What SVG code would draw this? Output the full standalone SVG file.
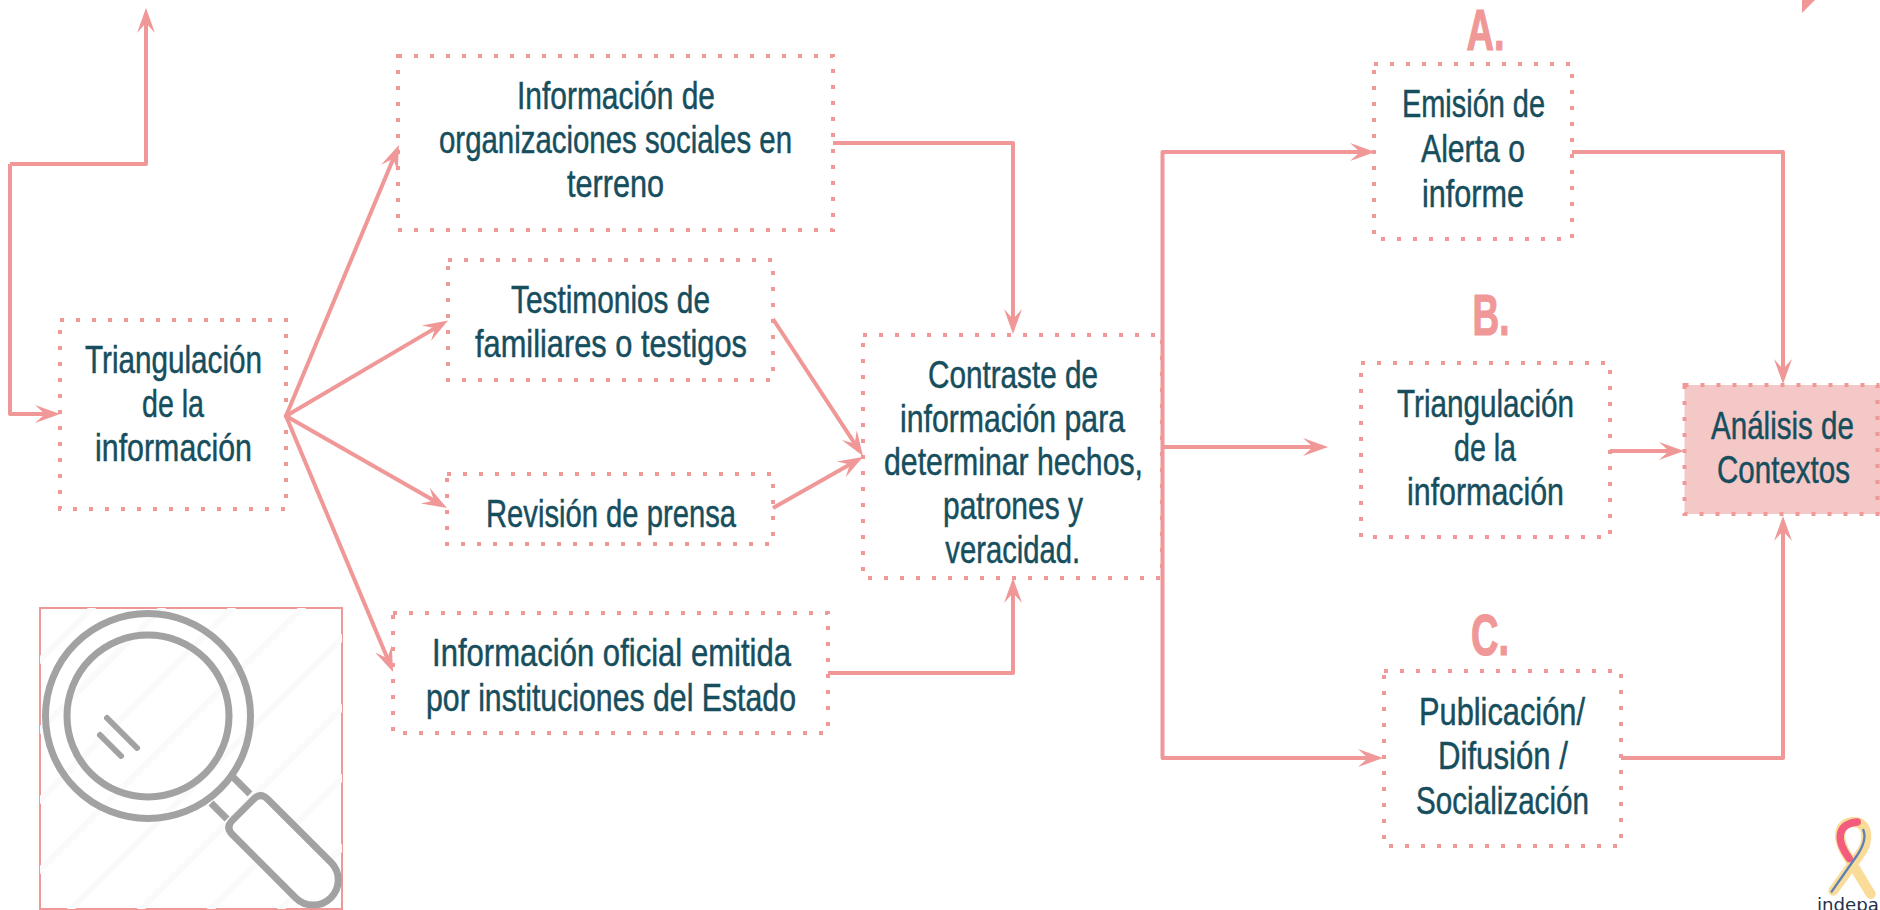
<svg xmlns="http://www.w3.org/2000/svg" width="1880" height="910" viewBox="0 0 1880 910">
<style>
.box{fill:none;stroke:#f09797;stroke-width:4;stroke-dasharray:4 12}
.c{fill:none;stroke:#f09797;stroke-width:4;stroke-linejoin:round}
.a{marker-end:url(#ah)}
.t{font-family:"Liberation Sans Narrow","Liberation Sans",sans-serif;font-size:39px;fill:#164e5e;stroke:#164e5e;stroke-width:.5;text-anchor:middle}
.l{font-family:"Liberation Sans",sans-serif;font-weight:bold;font-size:58px;fill:#f09797;stroke:#f09797;stroke-width:1.2}
.g{fill:none;stroke:#a2a2a2;stroke-width:7}
</style>
<defs>
<marker id="ah" markerUnits="userSpaceOnUse" markerWidth="30" markerHeight="22" viewBox="-26 -11 30 22" refX="-8" refY="0" orient="auto"><path d="M0 0L-25-9L-15 0L-25 9Z" fill="#f09797"/></marker>
<clipPath id="fr"><rect x="40" y="608" width="302" height="301"/></clipPath>
</defs>
<rect width="1880" height="910" fill="#fff"/>
<g id="lupa">
<rect x="40" y="608" width="302" height="301" fill="#fff" stroke="#f09797" stroke-width="2"/>
<path clip-path="url(#fr)" d="M30 670L100 600M30 740L170 600M30 810L240 600M30 880L310 600M30 950L380 600M90 960L420 630M160 960L420 700M230 960L420 770M300 960L420 840" fill="none" stroke="#fafafa" stroke-width="6"/>
<circle class="g" cx="148" cy="716" r="102.5"/>
<circle class="g" cx="148" cy="716" r="81"/>
<path d="M107 718L137 748M100 735L121 756" fill="none" stroke="#a2a2a2" stroke-width="6" stroke-linecap="round"/>
<path class="g" d="M233 777L250 794M211 803L227 819"/>
<g transform="translate(0 580) scale(.3333)"><path transform="rotate(45)" d="M1033-103H1301A75 75 0 0 1 1301 47H1033Q1003 47 1003 17V-73Q1003-103 1033-103Z" fill="#fff" stroke="#a2a2a2" stroke-width="21"/></g>
</g>
<g id="n1"><rect class="box" x="60" y="320" width="226" height="189"/>
<text class="t" x="173.5" y="373" textLength="177" lengthAdjust="spacingAndGlyphs">Triangulación</text>
<text class="t" x="173" y="417" textLength="62" lengthAdjust="spacingAndGlyphs">de la</text>
<text class="t" x="173.5" y="461" textLength="157" lengthAdjust="spacingAndGlyphs">información</text></g>
<g id="n2"><rect class="box" x="398" y="56" width="435" height="174"/>
<text class="t" x="616" y="109" textLength="198" lengthAdjust="spacingAndGlyphs">Información de</text>
<text class="t" x="615.5" y="153" textLength="353" lengthAdjust="spacingAndGlyphs">organizaciones sociales en</text>
<text class="t" x="615.5" y="197" textLength="97" lengthAdjust="spacingAndGlyphs">terreno</text></g>
<g id="n3"><rect class="box" x="448" y="260" width="325" height="120"/>
<text class="t" x="610.5" y="313" textLength="199" lengthAdjust="spacingAndGlyphs">Testimonios de</text>
<text class="t" x="611" y="357" textLength="272" lengthAdjust="spacingAndGlyphs">familiares o testigos</text></g>
<g id="n4"><rect class="box" x="447" y="474" width="326" height="70"/>
<text class="t" x="611" y="527" textLength="250" lengthAdjust="spacingAndGlyphs">Revisión de prensa</text></g>
<g id="n5"><rect class="box" x="393" y="613" width="435" height="120"/>
<text class="t" x="611.5" y="666" textLength="359" lengthAdjust="spacingAndGlyphs">Información oficial emitida</text>
<text class="t" x="611" y="711" textLength="370" lengthAdjust="spacingAndGlyphs">por instituciones del Estado</text></g>
<g id="n6"><rect class="box" x="863" y="335" width="299" height="243"/>
<text class="t" x="1013" y="388" textLength="170" lengthAdjust="spacingAndGlyphs">Contraste de</text>
<text class="t" x="1012.5" y="432" textLength="225" lengthAdjust="spacingAndGlyphs">información para</text>
<text class="t" x="1013.5" y="475" textLength="259" lengthAdjust="spacingAndGlyphs">determinar hechos,</text>
<text class="t" x="1013" y="519" textLength="140" lengthAdjust="spacingAndGlyphs">patrones y</text>
<text class="t" x="1012.75" y="563" textLength="135" lengthAdjust="spacingAndGlyphs">veracidad.</text></g>
<g id="n7"><rect class="box" x="1374" y="64" width="198" height="175"/>
<text class="t" x="1473.5" y="117" textLength="143" lengthAdjust="spacingAndGlyphs">Emisión de</text>
<text class="t" x="1473" y="162" textLength="104" lengthAdjust="spacingAndGlyphs">Alerta o</text>
<text class="t" x="1473" y="207" textLength="102" lengthAdjust="spacingAndGlyphs">informe</text></g>
<g id="n8"><rect class="box" x="1361" y="363" width="249" height="174"/>
<text class="t" x="1485.5" y="417" textLength="177" lengthAdjust="spacingAndGlyphs">Triangulación</text>
<text class="t" x="1485" y="461" textLength="62" lengthAdjust="spacingAndGlyphs">de la</text>
<text class="t" x="1485.5" y="505" textLength="157" lengthAdjust="spacingAndGlyphs">información</text></g>
<g id="n9"><rect class="box" x="1384" y="671" width="237" height="175"/>
<text class="t" x="1502" y="725" textLength="166" lengthAdjust="spacingAndGlyphs">Publicación/</text>
<text class="t" x="1503" y="769" textLength="130" lengthAdjust="spacingAndGlyphs">Difusión /</text>
<text class="t" x="1502.5" y="814" textLength="173" lengthAdjust="spacingAndGlyphs">Socialización</text></g>
<g id="n10"><rect x="1684.5" y="385" width="195.5" height="129" fill="#f5c8c8"/><rect class="box" x="1684.5" y="385" width="193" height="129"/>
<text class="t" x="1782.5" y="439" textLength="143" lengthAdjust="spacingAndGlyphs">Análisis de</text>
<text class="t" x="1783.5" y="483" textLength="133" lengthAdjust="spacingAndGlyphs">Contextos</text></g>
<g id="letras">
<text class="l" x="1466.5" y="50" textLength="38" lengthAdjust="spacingAndGlyphs">A.</text>
<text class="l" x="1472.5" y="335" textLength="37" lengthAdjust="spacingAndGlyphs">B.</text>
<text class="l" x="1471" y="655" textLength="38" lengthAdjust="spacingAndGlyphs">C.</text>
</g>
<g id="connectors">
<path class="c a" d="M10 164H146V16"/>
<path class="c a" d="M10 164V414H52"/>
<path class="c a" d="M286 416L395.9 152.4"/>
<path class="c a" d="M286 416L441.1 324.6"/>
<path class="c a" d="M286 416L440 504"/>
<path class="c a" d="M286 416L390 664.6"/>
<path class="c a" d="M833 143H1013V326"/>
<path class="c a" d="M773 319L858.6 449.3"/>
<path class="c a" d="M773 508L856 461"/>
<path class="c a" d="M828 673H1013V586"/>
<path class="c a" d="M1162.5 447V152H1367"/>
<path class="c a" d="M1162.5 447H1320"/>
<path class="c a" d="M1162.5 447V758H1375"/>
<path class="c a" d="M1572 152H1783V376"/>
<path class="c a" d="M1610 451H1676"/>
<path class="c a" d="M1621 758H1783V524"/>
<polygon points="1802,0 1815,0 1802,13" fill="#f09797"/>
</g>
<g id="logo">
<g transform="translate(1780 800) scale(.3333)" fill="none" stroke-linecap="round">
<path d="M272 282L205 172C168 118 172 68 220 66C266 64 270 125 238 165L160 272" stroke="#f8dc98" stroke-width="30"/>
<path d="M208 176C165 118 172 72 232 66" stroke="#f45c7e" stroke-width="22"/>
<path d="M155 275L232 165C252 135 258 110 250 90" stroke="#5c7fb6" stroke-width="7"/>
</g>
<text x="1817" y="911" font-family="'DejaVu Sans',sans-serif" font-size="17" fill="#24304a" textLength="62" lengthAdjust="spacingAndGlyphs">indepa</text>
</g>
</svg>
